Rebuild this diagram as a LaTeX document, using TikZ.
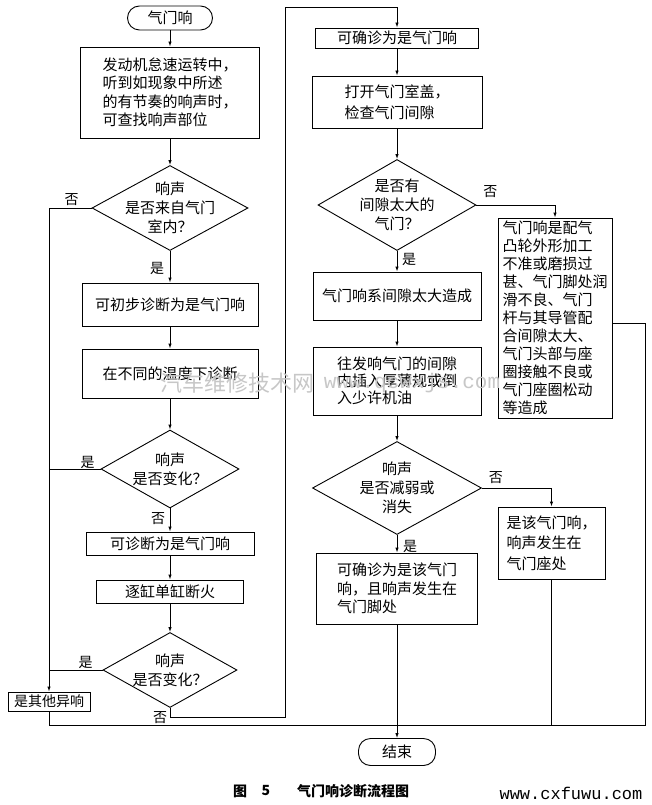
\documentclass[tikz,border=0pt]{standalone}
\usepackage{fontspec}
\newfontfamily\cjk{Noto Sans CJK SC}
\newfontfamily\monofnt{Liberation Mono}
\usetikzlibrary{shapes.geometric,arrows.meta,calc}
\begin{document}
\begin{tikzpicture}[x=1pt,y=-1pt,
  box/.style={draw, line width=0.9pt, fill=white, inner sep=0pt, align=left,
    font=\cjk\fontsize{15}{18.5}\selectfont},
  term/.style={box, rounded corners=12pt, align=center},
  dia/.style={draw, diamond, line width=0.9pt, fill=white, inner sep=0pt},
  dtxt/.style={inner sep=0pt, align=center, font=\cjk\fontsize{15}{19}\selectfont},
  lbl/.style={inner sep=0pt, font=\cjk\fontsize{14}{14}\selectfont},
  conn/.style={line width=0.9pt},
  arr/.style={conn, -{Latex[length=5pt,width=3.5pt]}},
]
\useasboundingbox (0,0) rectangle (652,805);

% ---------------- left column ----------------
\node[term, minimum width=85pt, minimum height=24pt] (start) at (170,18) {气门响};
\node[box, minimum width=179pt, minimum height=91pt] (b1) at (170,92.5)
  {发动机怠速运转中，\\听到如现象中所述\\的有节奏的响声时，\\可查找响声部位};
\node[dia, minimum width=156pt, minimum height=85pt] (d1) at (170,208) {};
\node[dtxt] (d1t) at (d1) {响声\\是否来自气门\\室内？};
\node[box, minimum width=176pt, minimum height=43pt] (b2) at (170,304.5) {可初步诊断为是气门响};
\node[box, minimum width=176pt, minimum height=49pt] (b3) at (170,373.5) {在不同的温度下诊断};
\node[dia, minimum width=138pt, minimum height=78pt] (d2) at (170,469) {};
\node[dtxt] (d2t) at (d2) {响声\\是否变化？};
\node[box, minimum width=168pt, minimum height=23pt] (b4) at (170,543.5) {可诊断为是气门响};
\node[box, minimum width=147pt, minimum height=23pt] (b5) at (170,591.5) {逐缸单缸断火};
\node[dia, minimum width=134pt, minimum height=75pt] (d3) at (170,670) {};
\node[dtxt] (d3t) at (d3) {响声\\是否变化？};
\node[box, minimum width=82pt, minimum height=19pt, font=\cjk\fontsize{14}{14}\selectfont] (other) at (49,701.5) {是其他异响};

% ---------------- right column ----------------
\node[box, minimum width=163pt, minimum height=20pt] (r1) at (397,38) {可确诊为是气门响};
\node[box, minimum width=170pt, minimum height=52pt, font=\cjk\fontsize{15}{21}\selectfont] (r2) at (397,102)
  {打开气门室盖，\\检查气门间隙};
\node[dia, minimum width=158pt, minimum height=91pt] (d4) at (397,205) {};
\node[dtxt] (d4t) at (d4) {是否有\\间隙太大的\\气门？};
\node[box, minimum width=168pt, minimum height=48pt] (r3) at (397,296) {气门响系间隙太大造成};
\node[box, minimum width=168pt, minimum height=68pt, font=\cjk\fontsize{15}{17}\selectfont] (r4) at (397,381)
  {往发响气门的间隙\\内插入厚薄规或倒\\入少许机油};
\node[dia, minimum width=169pt, minimum height=93pt] (d5) at (397,488) {};
\node[dtxt] (d5t) at (d5) {响声\\是否减弱或\\消失};
\node[box, minimum width=161pt, minimum height=71pt] (r5) at (397,588.5)
  {可确诊为是该气门\\响，且响声发生在\\气门脚处};
\node[term, minimum width=77pt, minimum height=27pt] (end) at (397,752) {结束};

\node[box, minimum width=114pt, minimum height=200pt, font=\cjk\fontsize{15}{18}\selectfont] (s1) at (555,318)
  {气门响是配气\\凸轮外形加工\\不准或磨损过\\甚、气门脚处润\\滑不良、气门\\杆与其导管配\\合间隙太大、\\气门头部与座\\圈接触不良或\\气门座圈松动\\等造成};
\node[box, minimum width=107pt, minimum height=72pt, font=\cjk\fontsize{15}{20.5}\selectfont] (s2) at (551.5,543)
  {是该气门响，\\响声发生在\\气门座处};

% ---------------- helper coordinates ----------------
\coordinate (bus) at (397,725);
\coordinate (busR) at (645,725);
\coordinate (lp2) at (285,717);
\coordinate (lp3) at (285,7);

% ---------------- connectors ----------------
\draw[arr] (start) -- (b1);
\draw[arr] (b1) -- (d1);
\draw[arr] (d1.south) -- (b2);
\draw[arr] (b2) -- (b3);
\draw[arr] (b3) -- (d2);
\draw[arr] (d2.south) -- (b4);
\draw[arr] (b4) -- (b5);
\draw[arr] (b5) -- (d3);

\draw[arr] (d1.west) -| (other.north);
\draw[conn] (d2.west) -- (d2.west -| other.north);
\draw[conn] (d3.west) -- (d3.west -| other.north);
\draw[conn] (other.south) |- (bus);

\draw[arr] (d3.south) |- (lp2) -- (lp3) -| (r1.north);
\draw[arr] (r1) -- (r2);
\draw[arr] (r2) -- (d4);
\draw[arr] (d4.south) -- (r3);
\draw[arr] (d4.east) -| (s1.north);
\draw[arr] (r3) -- (r4);
\draw[arr] (r4) -- (d5);
\draw[arr] (d5.south) -- (r5);
\draw[arr] (d5.east) -| (s2.north);

\draw[conn] ([yshift=-5pt]s1.east) -| (busR) -- (bus);
\draw[conn] (s2.south) -- (s2.south |- bus);
\draw[arr] (r5.south) -- (end.north);

% ---------------- branch labels ----------------
\node[lbl] (l1n) at ([xshift=-20pt,yshift=8pt]d1.west) {否};
\node[lbl] (l1y) at ([xshift=-13pt,yshift=-18pt]d1.south) {是};
\node[lbl] (l2y) at ([xshift=-13pt,yshift=7pt]d2.west) {是};
\node[lbl] (l2n) at ([xshift=-12pt,yshift=-10pt]d2.south) {否};
\node[lbl] (l3y) at ([xshift=-17pt,yshift=8pt]d3.west) {是};
\node[lbl] (l3n) at ([xshift=-10pt,yshift=-10pt]d3.south) {否};
\node[lbl] (l4n) at ([xshift=14pt,yshift=13pt]d4.east) {否};
\node[lbl] (l4y) at ([xshift=12pt,yshift=-9pt]d4.south) {是};
\node[lbl] (l5n) at ([xshift=14pt,yshift=10pt]d5.east) {否};
\node[lbl] (l5y) at ([xshift=13pt,yshift=-12pt]d5.south) {是};

% ---------------- caption ----------------
\node[inner sep=0pt, font=\cjk\bfseries\fontsize{14}{14}\selectfont] (capA) at (240,791) {图};
\node[inner sep=0pt, font=\cjk\bfseries\fontsize{14}{14}\selectfont] (capB) at (266,791) {5};
\node[inner sep=0pt, font=\cjk\bfseries\fontsize{14}{14}\selectfont] (capC) at (353,791) {气门响诊断流程图};
\node[inner sep=0pt, font=\monofnt\fontsize{17}{17}\selectfont] (wm2) at (571,793) {www.cxfuwu.com};

% ---------------- watermark ----------------
\node[inner sep=0pt, text=black!22, font=\cjk\fontsize{22}{22}\selectfont] (wm1a) at (237,383) {汽车维修技术网};
\node[inner sep=0pt, text=black!22, font=\monofnt\fontsize{21}{21}\selectfont] (wm1b) at (412,383) {www.qcwxjs.com};
\end{tikzpicture}
\end{document}
